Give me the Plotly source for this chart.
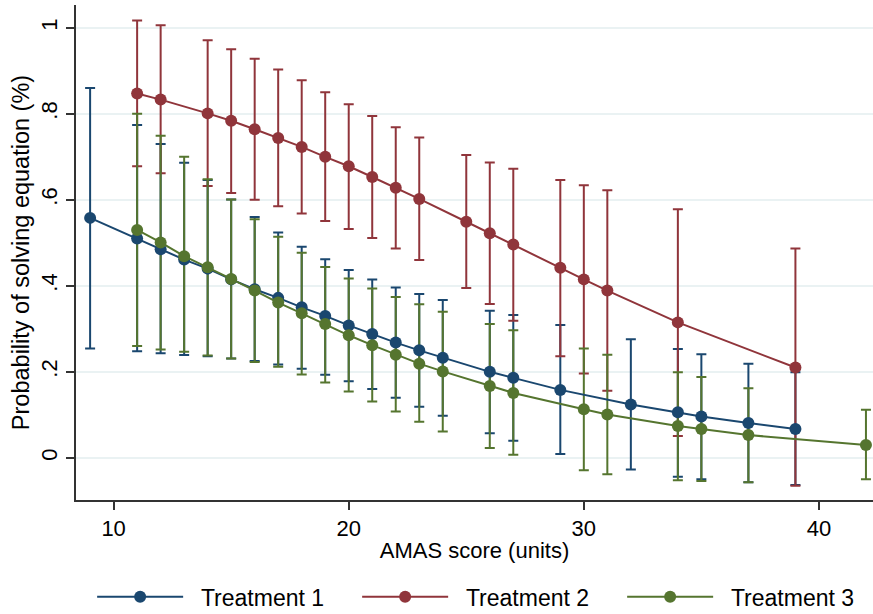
import plotly.graph_objects as go

# ---- data ----
t1_x = [9, 11, 12, 13, 14, 15, 16, 17, 18, 19, 20, 21, 22, 23, 24, 26, 27, 29, 32, 34, 35, 37, 39]
t1_y = [0.558, 0.510, 0.485, 0.461, 0.440, 0.415, 0.392, 0.372, 0.350, 0.330, 0.308, 0.288, 0.268,
        0.250, 0.233, 0.200, 0.186, 0.158, 0.124, 0.106, 0.096, 0.081, 0.067]
t1_hi = [0.860, 0.774, 0.730, 0.686, 0.646, 0.601, 0.560, 0.524, 0.491, 0.462, 0.437, 0.415, 0.396,
         0.381, 0.367, 0.342, 0.332, 0.309, 0.276, 0.253, 0.241, 0.219, 0.199]
t1_lo = [0.254, 0.248, 0.243, 0.239, 0.236, 0.231, 0.225, 0.217, 0.207, 0.193, 0.178, 0.160, 0.140,
         0.119, 0.098, 0.057, 0.040, 0.009, -0.027, -0.044, -0.050, -0.057, -0.063]

t2_x = [11, 12, 14, 15, 16, 17, 18, 19, 20, 21, 22, 23, 25, 26, 27, 29, 30, 31, 34, 39]
t2_y = [0.847, 0.833, 0.801, 0.784, 0.764, 0.744, 0.723, 0.700, 0.678, 0.653, 0.628, 0.602, 0.549,
        0.522, 0.496, 0.442, 0.415, 0.389, 0.315, 0.210]
t2_hi = [1.017, 1.006, 0.971, 0.950, 0.928, 0.903, 0.878, 0.850, 0.822, 0.795, 0.769, 0.745, 0.704,
         0.687, 0.672, 0.646, 0.634, 0.622, 0.578, 0.487]
t2_lo = [0.678, 0.662, 0.632, 0.616, 0.600, 0.585, 0.568, 0.551, 0.532, 0.511, 0.487, 0.460, 0.395,
         0.358, 0.319, 0.236, 0.196, 0.156, 0.051, -0.065]

t3_x = [11, 12, 13, 14, 15, 16, 17, 18, 19, 20, 21, 22, 23, 24, 26, 27, 30, 31, 34, 35, 37, 42]
t3_y = [0.530, 0.501, 0.469, 0.443, 0.416, 0.389, 0.361, 0.336, 0.311, 0.285, 0.262, 0.240, 0.219,
        0.201, 0.167, 0.151, 0.113, 0.101, 0.074, 0.067, 0.053, 0.030]
t3_hi = [0.800, 0.749, 0.700, 0.648, 0.601, 0.555, 0.514, 0.477, 0.444, 0.417, 0.394, 0.374, 0.357,
         0.340, 0.311, 0.297, 0.254, 0.240, 0.199, 0.188, 0.162, 0.112]
t3_lo = [0.260, 0.252, 0.247, 0.238, 0.231, 0.223, 0.212, 0.194, 0.175, 0.154, 0.131, 0.108, 0.084,
         0.061, 0.023, 0.007, -0.029, -0.038, -0.052, -0.054, -0.057, -0.050]

names = ["Treatment 1", "Treatment 2", "Treatment 3"]
colors = ["#1a476f", "#90353b", "#55752f"]
y_ticks = [0, 0.2, 0.4, 0.6, 0.8, 1]
y_tick_text = ["0", ".2", ".4", ".6", ".8", "1"]
x_ticks = [10, 20, 30, 40]

FONT = "Liberation Sans, Arial, Helvetica, sans-serif"

series = [(t1_x, t1_y, t1_hi, t1_lo), (t2_x, t2_y, t2_hi, t2_lo), (t3_x, t3_y, t3_hi, t3_lo)]

fig = go.Figure()
# error bars first (drawn beneath all lines and markers)
for (xs, ys, hi, lo), c in zip(series, colors):
    fig.add_trace(go.Scatter(
        x=xs, y=ys, mode="markers",
        marker=dict(size=1, opacity=0, color=c),
        error_y=dict(type="data", symmetric=False,
                     array=[h - v for h, v in zip(hi, ys)],
                     arrayminus=[v - l for v, l in zip(ys, lo)],
                     color=c, thickness=2, width=5),
        showlegend=False, hoverinfo="skip"))
for (xs, ys, hi, lo), c, n in zip(series, colors, names):
    fig.add_trace(go.Scatter(
        x=xs, y=ys, mode="lines+markers", name="\u00a0\u00a0" + n,
        line=dict(color=c, width=2),
        marker=dict(size=12, color=c)))

fig.update_layout(
    width=873, height=614,
    paper_bgcolor="white", plot_bgcolor="white",
    margin=dict(l=76, r=0, t=5, b=114, autoexpand=False),
    font=dict(family=FONT, size=22, color="black"),
    showlegend=True,
    legend=dict(orientation="h", x=0.519, xanchor="center", y=-0.152, yanchor="top",
                font=dict(size=23), itemwidth=86, entrywidth=164, traceorder="normal"),
    xaxis=dict(range=[8.4, 42.3], tickvals=x_ticks, showgrid=False, zeroline=False,
               showline=True, linecolor="#333333", linewidth=1.5,
               ticks="outside", ticklen=8, tickcolor="#333333", tickwidth=1.5,
               title=dict(text="AMAS score (units)", standoff=2, font=dict(size=22)),
               tickfont=dict(size=22)),
    yaxis=dict(range=[-0.098, 1.053], tickvals=y_ticks, ticktext=y_tick_text, tickangle=-90,
               showgrid=True, gridcolor="#eaf2f3", gridwidth=1.5, zeroline=False,
               showline=True, linecolor="#333333", linewidth=1.5,
               ticks="outside", ticklen=8, tickcolor="#333333", tickwidth=1.5,
               title=dict(text="Probability of solving equation (%)", standoff=1, font=dict(size=23.5)),
               tickfont=dict(size=22)),
)

fig.write_html("out.html", config={"displayModeBar": False},
               post_script="document.body.style.margin='0';")
